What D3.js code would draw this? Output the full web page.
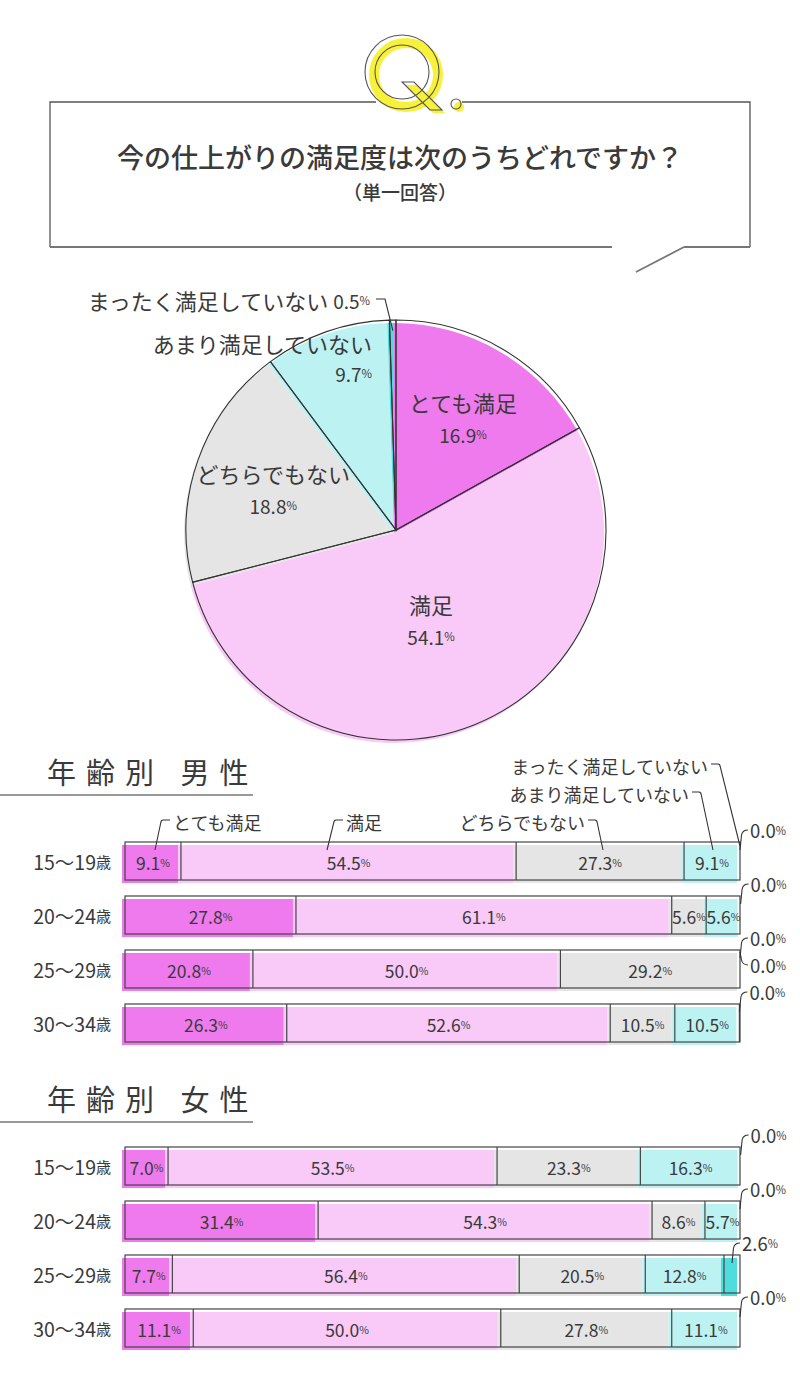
<!DOCTYPE html>
<html>
<head>
<meta charset="utf-8">
<script src="https://cdn.jsdelivr.net/npm/d3@7"></script>
<style>
  body { margin: 0; background: #fff; }
  text { font-family: "Noto Sans CJK JP", "Noto Sans", sans-serif; fill: #3a3a3a; }
</style>
</head>
<body>
<script>
// ---- data ----
const title = "今の仕上がりの満足度は次のうちどれですか？";
const subtitle = "（単一回答）";
const categories = ["とても満足", "満足", "どちらでもない", "あまり満足していない", "まったく満足していない"];
const overall = [16.9, 54.1, 18.8, 9.7, 0.5];
const ageGroups = ["15〜19", "20〜24", "25〜29", "30〜34"];
const maleValues = [
  [9.1, 54.5, 27.3, 9.1, 0.0],
  [27.8, 61.1, 5.6, 5.6, 0.0],
  [20.8, 50.0, 29.2, 0.0, 0.0],
  [26.3, 52.6, 10.5, 10.5, 0.0]
];
const femaleValues = [
  [7.0, 53.5, 23.3, 16.3, 0.0],
  [31.4, 54.3, 8.6, 5.7, 0.0],
  [7.7, 56.4, 20.5, 12.8, 2.6],
  [11.1, 50.0, 27.8, 11.1, 0.0]
];
const sectionTitles = ["年齢別 男性", "年齢別 女性"];

// ---- style ----
const colors = ["#ee7aee", "#f9c9f8", "#e5e5e5", "#bdf2f3", "#4fdcdc"];
const lineColor = "#444";
const fmt = d3.format(".1f");

const svg = d3.select("body").append("svg")
  .attr("width", 800)
  .attr("height", 1390);

// number + small % sign
function pctText(sel, v, size) {
  sel.append("tspan").attr("font-size", size).text(fmt(v));
  sel.append("tspan").attr("font-size", size * 0.6).text("%");
}

// ---- Q header box ----
const box = svg.append("g").attr("fill", "none").attr("stroke", "#555").attr("stroke-width", 1.3);
box.append("path").attr("d", "M50,247 L50,102 L376,102 M462,102 L750,102 L750,247");
box.append("path").attr("d", "M50,247 L612,247 M684,247 L750,247 M684,247 L636,272")
  .attr("stroke", "#777").attr("stroke-width", 1.8);

const q = svg.append("g");
q.append("circle").attr("cx", 406).attr("cy", 75).attr("r", 32)
  .attr("fill", "none").attr("stroke", "#f7f13a").attr("stroke-width", 10);
q.append("path").attr("d", "M405,85 L417,85 L445,113 L433,113 Z").attr("fill", "#f7f13a");
q.append("circle").attr("cx", 459).attr("cy", 107).attr("r", 5).attr("fill", "#f7f13a");
const qo = q.append("g").attr("fill", "none").attr("stroke", "#555").attr("stroke-width", 1.1);
qo.append("circle").attr("cx", 402).attr("cy", 72).attr("r", 37);
qo.append("circle").attr("cx", 402).attr("cy", 72).attr("r", 27);
qo.append("path").attr("d", "M402,82 L414,82 L442,110 L430,110 Z").attr("fill", "none");
qo.append("circle").attr("cx", 456).attr("cy", 104).attr("r", 5);

svg.append("text").attr("x", 400).attr("y", 168).attr("text-anchor", "middle")
  .attr("font-size", 27).attr("font-weight", 500).text(title);
svg.append("text").attr("x", 400).attr("y", 200).attr("text-anchor", "middle")
  .attr("font-size", 19).attr("font-weight", 500).text(subtitle);

// ---- pie ----
const cx = 396, cy = 530, R = 210;
const pie = d3.pie().sort(null).value(d => d);
const arcs = pie(overall);
const arc = d3.arc().innerRadius(0).outerRadius(R);
const pg = svg.append("g").attr("transform", `translate(${cx},${cy})`);

pg.append("g").attr("transform", "translate(-2,3)")
  .selectAll("path").data(arcs).join("path")
  .attr("d", arc)
  .attr("fill", (d, i) => colors[i]);
pg.append("g")
  .selectAll("path").data(arcs).join("path")
  .attr("d", arc)
  .attr("fill", "none")
  .attr("stroke", "#333")
  .attr("stroke-width", 1.1);

// inside labels
const labelRadius = [0.63, 0.45, 0.62];
arcs.slice(0, 3).forEach((d, i) => {
  const la = d3.arc().innerRadius(R * labelRadius[i]).outerRadius(R * labelRadius[i]);
  const [lx, ly] = la.centroid(d);
  pg.append("text").attr("x", lx).attr("y", ly - 14).attr("text-anchor", "middle")
    .attr("dominant-baseline", "central").attr("font-size", 22).text(categories[i]);
  pctText(pg.append("text").attr("x", lx).attr("y", ly + 18).attr("text-anchor", "middle")
    .attr("dominant-baseline", "central"), d.data, 19);
});

// outside labels
const pt = (d, r) => {
  const a = (d.startAngle + d.endAngle) / 2;
  return [Math.sin(a) * r, -Math.cos(a) * r];
};
pg.append("text").attr("x", -24).attr("y", -187).attr("text-anchor", "end")
  .attr("dominant-baseline", "central").attr("font-size", 22).text(categories[3]);
pctText(pg.append("text").attr("x", -24).attr("y", -157).attr("text-anchor", "end")
  .attr("dominant-baseline", "central"), arcs[3].data, 19);

const t4 = pg.append("text").attr("x", -26).attr("y", -230).attr("text-anchor", "end")
  .attr("dominant-baseline", "central");
t4.append("tspan").attr("font-size", 22).text(categories[4] + " ");
pctText(t4, arcs[4].data, 19);
const [ex, ey] = pt(arcs[4], R * 0.95);
pg.append("path")
  .attr("d", `M-20,-231 L-11,-231 L${ex},${ey}`)
  .attr("fill", "none").attr("stroke", "#333").attr("stroke-width", 1.1);

// ---- stacked bars ----
const x = d3.scaleLinear().domain([0, 100]).range([125, 740]);
const stack = d3.stack().keys(d3.range(5)).value((d, k) => d[k]);

function section(values, headTitle, headY, top, withCallouts) {
  const g = svg.append("g");

  g.append("text").attr("x", 47).attr("y", headY).attr("font-size", 29)
    .attr("letter-spacing", 10).text(headTitle);
  g.append("line").attr("x1", 0).attr("x2", 253).attr("y1", headY + 11).attr("y2", headY + 11)
    .attr("stroke", "#777").attr("stroke-width", 1.6);

  const y = d3.scaleBand().domain(ageGroups).range([top, top + 200])
    .paddingInner(0.296).paddingOuter(0);
  const series = stack(values);
  const bh = y.bandwidth();

  // fills (slightly offset, like a print misregistration)
  g.append("g").attr("transform", "translate(-3,3)")
    .selectAll("g").data(series).join("g")
    .attr("fill", (s, k) => colors[k])
    .selectAll("rect").data(s => s).join("rect")
    .attr("x", d => x(d[0]))
    .attr("width", d => x(d[1]) - x(d[0]))
    .attr("y", (d, i) => y(ageGroups[i]))
    .attr("height", bh);

  // outlines
  const og = g.append("g").attr("fill", "none").attr("stroke", lineColor).attr("stroke-width", 1.2);
  og.selectAll("rect").data(ageGroups).join("rect")
    .attr("x", x(0)).attr("width", x(100) - x(0))
    .attr("y", a => y(a)).attr("height", bh);
  values.forEach((row, i) => {
    d3.cumsum(row).slice(0, 4).forEach(c => {
      if (c > 0 && c < 99.95) {
        og.append("line").attr("x1", x(c)).attr("x2", x(c))
          .attr("y1", y(ageGroups[i])).attr("y2", y(ageGroups[i]) + bh);
      }
    });
  });

  // row labels
  ageGroups.forEach(a => {
    const t = g.append("text").attr("x", 111).attr("y", y(a) + bh / 2)
      .attr("text-anchor", "end").attr("dominant-baseline", "central");
    t.append("tspan").attr("font-size", 19.5).text(a);
    t.append("tspan").attr("font-size", 15).text("歳");
  });

  // value labels
  series.forEach((s, k) => {
    s.forEach((d, i) => {
      const v = values[i][k];
      const top0 = y(ageGroups[i]);
      if (v >= 5) {
        pctText(g.append("text").attr("x", (x(d[0]) + x(d[1])) / 2).attr("y", top0 + bh / 2 + 1)
          .attr("text-anchor", "middle").attr("dominant-baseline", "central"), v, 17.5);
      } else if (k >= 3) {
        // small / zero values are labelled outside the bar
        const up = k === 4;
        const ax = (x(d[0]) + x(d[1])) / 2;
        const ly = up ? top0 - 12 : top0 + 15;
        const sy = up ? top0 + 8 : top0 + 2;
        const p = up
          ? `M${ax},${sy} L${ax + 1.5},${ly + 5} Q${ax + 2.5},${ly} ${ax + 8},${ly}`
          : `M${x(100)},${sy} L${x(100) + 1.5},${ly - 5} Q${x(100) + 2.5},${ly} ${x(100) + 8},${ly}`;
        g.append("path").attr("d", p).attr("fill", "none").attr("stroke", "#333").attr("stroke-width", 1.1);
        pctText(g.append("text").attr("x", (up ? ax : x(100)) + 10).attr("y", ly)
          .attr("dominant-baseline", "central"), v, 18.5);
      }
    });
  });

  if (withCallouts) {
    // legend leaders above the first bar
    const callouts = [
      { k: 0, kx: 161, ky: 820, tx: 171, bx: 155, by: 850, anchor: "start" },
      { k: 1, kx: 334, ky: 820, tx: 344, bx: 327, by: 850, anchor: "start" },
      { k: 2, kx: 597, ky: 820, tx: 587, bx: 603, by: 850, anchor: "end" },
      { k: 3, kx: 701, ky: 792, tx: 691, bx: 713, by: 850, anchor: "end" },
      { k: 4, kx: 720, ky: 764, tx: 710, bx: 740, by: 846, anchor: "end" }
    ];
    callouts.forEach(c => {
      const dir = c.anchor === "start" ? 1 : -1;
      g.append("path")
        .attr("d", `M${c.tx - dir},${c.ky} L${c.kx + dir * 2},${c.ky} Q${c.kx},${c.ky} ${c.kx - dir * 0.3},${c.ky + 3} L${c.bx},${c.by}`)
        .attr("fill", "none").attr("stroke", "#333").attr("stroke-width", 1.1);
      g.append("text").attr("x", c.tx + dir * 2).attr("y", c.ky + 2).attr("text-anchor", c.anchor)
        .attr("dominant-baseline", "central").attr("font-size", 18).text(categories[c.k]);
    });
  }
}

section(maleValues, sectionTitles[0], 784, 842, true);
section(femaleValues, sectionTitles[1], 1111, 1147, false);
</script>
</body>
</html>
